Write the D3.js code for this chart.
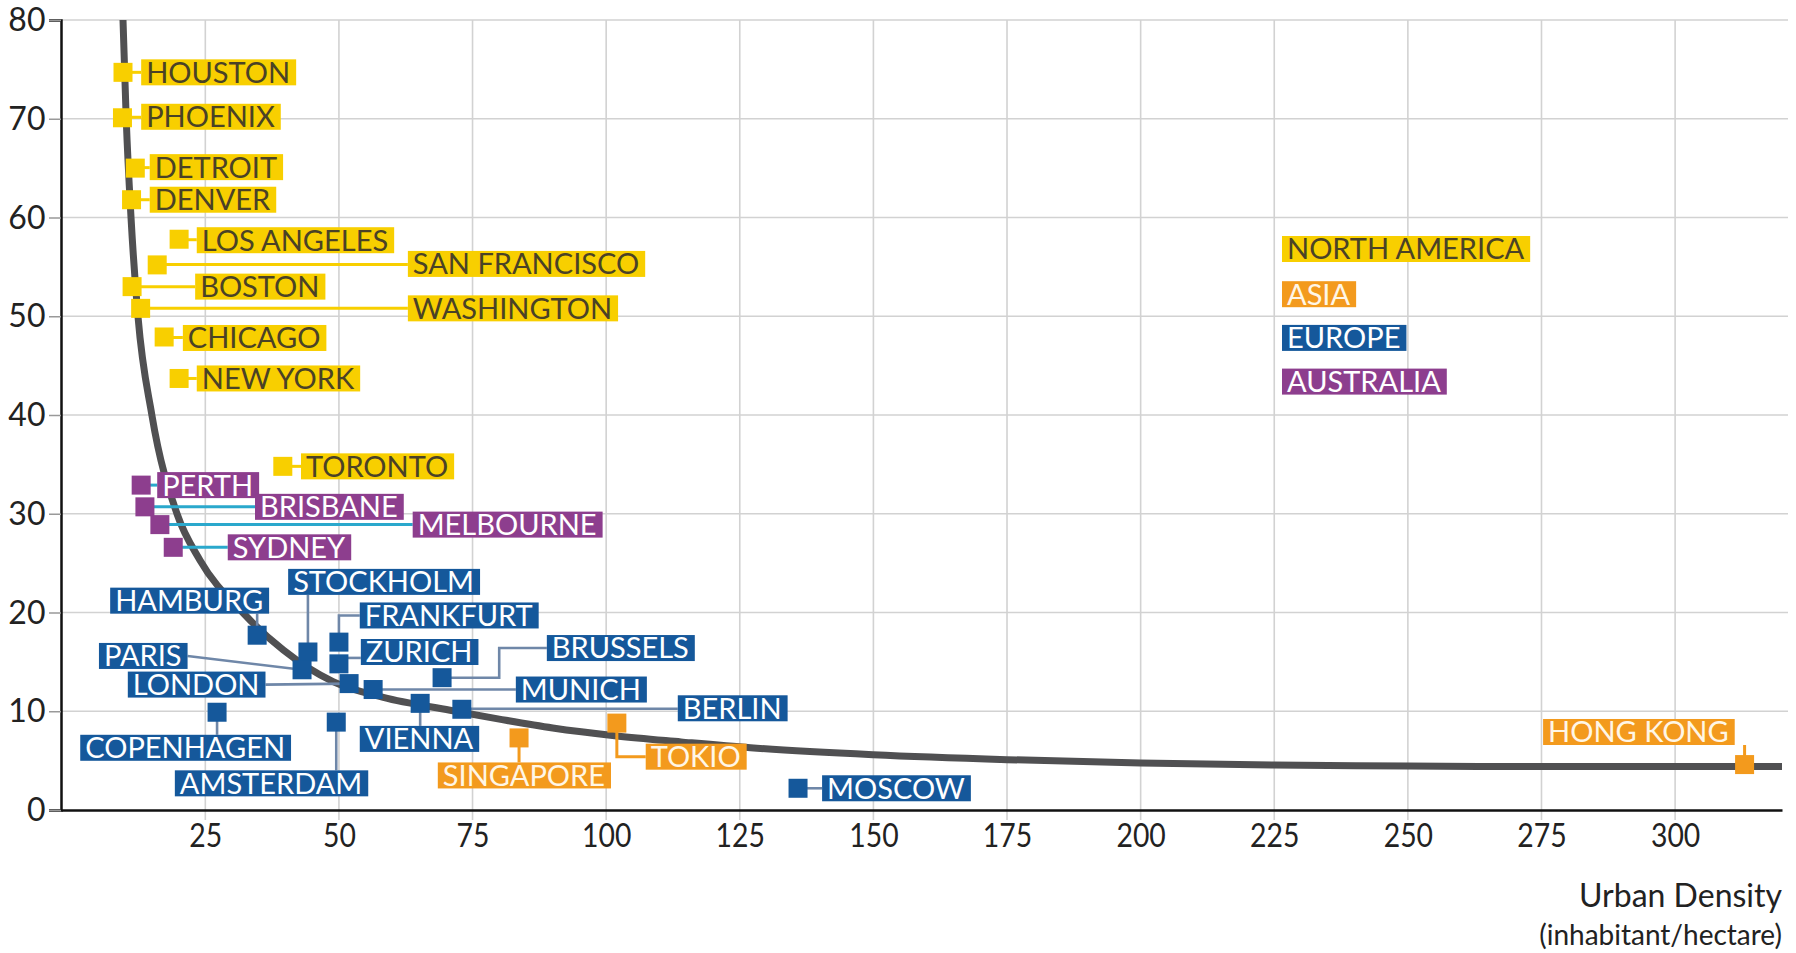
<!DOCTYPE html>
<html><head><meta charset="utf-8">
<script src="https://cdn.jsdelivr.net/npm/d3@7"></script>
<style>
body{margin:0;background:#fff}
svg{display:block}
text{font-family:Lato,"Open Sans",sans-serif}
</style>
</head><body>
<svg id="chart" width="1796" height="953"></svg>
<script>
// ---------- data ----------
const regions = ["NORTH AMERICA", "ASIA", "EUROPE", "AUSTRALIA"];
const cities = ["HOUSTON","PHOENIX","DETROIT","DENVER","LOS ANGELES","SAN FRANCISCO","BOSTON","WASHINGTON","CHICAGO","NEW YORK","TORONTO",
  "PERTH","BRISBANE","MELBOURNE","SYDNEY",
  "HAMBURG","STOCKHOLM","FRANKFURT","ZURICH","PARIS","LONDON","MUNICH","BRUSSELS","VIENNA","BERLIN","COPENHAGEN","AMSTERDAM","MOSCOW",
  "SINGAPORE","TOKIO","HONG KONG"];
const cityRegion = [0,0,0,0,0,0,0,0,0,0,0, 3,3,3,3, 2,2,2,2,2,2,2,2,2,2,2,2,2, 1,1,1];
const density = [9.6,9.5,11.9,11.2,20.1,16.0,11.3,12.9,17.3,20.1,39.5,
  13.0,13.7,16.5,19.0,
  34.7,44.2,50.0,50.0,43.1,51.9,56.4,69.3,65.2,73.0,27.2,49.5,135.9,
  83.7,102.0,313.0];
const consumption = [74.7,70.1,65.0,61.8,57.8,55.2,53.0,50.8,47.9,43.7,34.8,
  32.9,30.7,28.9,26.6,
  17.7,16.0,17.0,14.8,14.2,12.8,12.2,13.4,10.8,10.2,9.9,8.9,2.2,
  7.3,8.8,4.6];
// label anchors (data units): left edge of label box, centre of label box
const labelX = [13.0,13.0,14.6,14.6,23.4,62.9,23.1,62.9,20.8,23.4,42.9,
  16.0,34.3,63.8,29.2,
  7.2,40.5,53.9,54.1,5.1,10.5,83.1,88.9,53.9,113.4,1.6,19.3,140.4,
  68.5,107.4,275.3];
const labelY = [74.7,70.2,65.1,61.8,57.7,55.3,53.0,50.8,47.8,43.7,34.8,
  32.9,30.7,28.9,26.6,
  21.2,23.1,19.7,16.0,15.6,12.7,12.2,16.4,7.2,10.3,6.3,2.7,2.2,
  3.5,5.4,7.9];
// leader kind: r=right, l=left, u=up, d=down, eu=elbow up, ed=elbow down, er=elbow right
const leaderKind = ["r","r","r","r","r","r","r","r","r","r","r",
  "r","r","r","r",
  "u","u","eu","r","l","l","r","er","d","r","d","d","r",
  "d","ed","u"];
// fitted curve
const curveX = [9.6,10.2,11.1,12.4,15,19.7,24,32,39.6,48.9,58.3,70.8,80,90,102,114,127,150,175,200,225,250,275,300,320];
const curveY = [80,70,60,50,40,30,25.3,20,16.2,13.0,11.4,10.1,9.2,8.3,7.5,6.9,6.3,5.6,5.1,4.75,4.55,4.45,4.4,4.4,4.4];
const xTicks = [25,50,75,100,125,150,175,200,225,250,275,300];
const yTicks = [0,10,20,30,40,50,60,70,80];
const axisTitle = ["Urban Density", "(inhabitant/hectare)"];

// ---------- styles ----------
const boxFill = ["#f8cf00", "#f39a1d", "#15589b", "#8d3e8e"];
const textFill = ["#4a4226", "#fff6e6", "#ffffff", "#ffffff"];
const leadColor = ["#f8cf00", "#f39a1d", "#6f87a8", "#2aa8cc"];
const tickFont = "'Liberation Sans', Arimo, sans-serif";

// ---------- layout ----------
const svg = d3.select("#chart");
const x = d3.scaleLinear().domain([-2, 320]).range([61, 1782]);
const y = d3.scaleLinear().domain([0, 80]).range([810, 20]);
const SQ = 19, BH = 26, FS = 29, PAD = 5;

const gGrid = svg.append("g");
const gAxis = svg.append("g");
const gCurve = svg.append("g");
const gLead = svg.append("g");
const gSq = svg.append("g");
const gLab = svg.append("g");

// grid
gGrid.selectAll("line.h").data(yTicks.filter(d => d > 0)).join("line")
  .attr("x1", x(-2)).attr("x2", x(320) + 6)
  .attr("y1", d => y(d)).attr("y2", d => y(d))
  .attr("stroke", "#d2d2d2").attr("stroke-width", 1.6);
gGrid.selectAll("line.v").data(xTicks).join("line")
  .attr("x1", d => x(d)).attr("x2", d => x(d))
  .attr("y1", y(80)).attr("y2", y(0) + 10)
  .attr("stroke", "#d2d2d2").attr("stroke-width", 1.6);

// axes
const ya = gAxis.append("g").attr("transform", `translate(${x(-2)},0)`)
  .call(d3.axisLeft(y).tickValues(yTicks).tickSize(12).tickPadding(4));
ya.select(".domain").attr("stroke", "#111").attr("stroke-width", 2.5);
ya.selectAll(".tick line").attr("stroke", "#999").attr("stroke-width", 1.5);
ya.selectAll(".tick text").attr("font-size", 33).attr("fill", "#222")
  .attr("font-family", tickFont).attr("transform", "scale(0.97,1)");

const xa = gAxis.append("g").attr("transform", `translate(0,${y(0)})`)
  .call(d3.axisBottom(x).tickValues(xTicks).tickSize(0).tickPadding(14));
xa.select(".domain").attr("stroke", "#111").attr("stroke-width", 2.5);
xa.selectAll(".tick text").attr("font-size", 33).attr("fill", "#222")
  .attr("font-family", tickFont).attr("transform", "scale(0.86,1)");

// axis title
svg.append("text").attr("x", x(320)).attr("y", 907).attr("text-anchor", "end")
  .attr("font-size", 32).attr("fill", "#222").text(axisTitle[0]);
svg.append("text").attr("x", x(320)).attr("y", 945).attr("text-anchor", "end")
  .attr("font-size", 28).attr("fill", "#222").text(axisTitle[1]);

// curve
const line = d3.line().x((d, i) => x(curveX[i])).y((d, i) => y(curveY[i])).curve(d3.curveMonotoneX);
gCurve.append("path").attr("d", line(curveX)).attr("fill", "none")
  .attr("stroke", "#505052").attr("stroke-width", 7);

// label helper
function drawLabel(g, txt, left, yc, r) {
  const grp = g.append("g");
  const rect = grp.append("rect").attr("fill", boxFill[r]);
  const t = grp.append("text").attr("x", left + PAD).attr("y", yc).attr("dy", "0.36em")
    .attr("font-size", FS).attr("fill", textFill[r]).text(txt);
  const w = t.node().getComputedTextLength() + 2 * PAD + 1;
  rect.attr("x", left).attr("y", yc - BH / 2).attr("width", w).attr("height", BH);
  return w;
}

// labels
const widths = cities.map((c, i) => drawLabel(gLab, c, x(labelX[i]), y(labelY[i]), cityRegion[i]));

// leaders
cities.forEach((c, i) => {
  const px = x(density[i]), py = y(consumption[i]);
  const bl = x(labelX[i]), bc = y(labelY[i]), br = bl + widths[i];
  const k = leaderKind[i];
  let pts;
  if (k === "r") { const yy = (py + bc) / 2; pts = [[px, yy], [bl, yy]]; }
  else if (k === "l") pts = [[px, py], [br, bc]];
  else if (k === "u") pts = [[px, py], [px, bc + BH / 2]];
  else if (k === "d") pts = [[px, py], [px, bc - BH / 2]];
  else if (k === "eu" || k === "ed") pts = [[px, py], [px, bc], [bl, bc]];
  else if (k === "er") { const mx = (px + SQ / 2 + bl) / 2; pts = [[px, py], [mx, py], [mx, bc], [bl, bc]]; }
  gLead.append("path").attr("d", d3.line()(pts)).attr("fill", "none")
    .attr("stroke", leadColor[cityRegion[i]]).attr("stroke-width", cityRegion[i] === 2 ? 2.6 : 3);
});

// squares
gSq.selectAll("rect").data(cities).join("rect")
  .attr("x", (d, i) => x(density[i]) - SQ / 2)
  .attr("y", (d, i) => y(consumption[i]) - SQ / 2)
  .attr("width", SQ).attr("height", SQ)
  .attr("fill", (d, i) => boxFill[cityRegion[i]]);

// legend
const legX = 1282, legY0 = 249, legStep = 43.7;
regions.forEach((r, i) => drawLabel(gLab, r, legX, legY0 + i * legStep + (i > 0 ? 1.5 : 0), i));
</script>
</body></html>
